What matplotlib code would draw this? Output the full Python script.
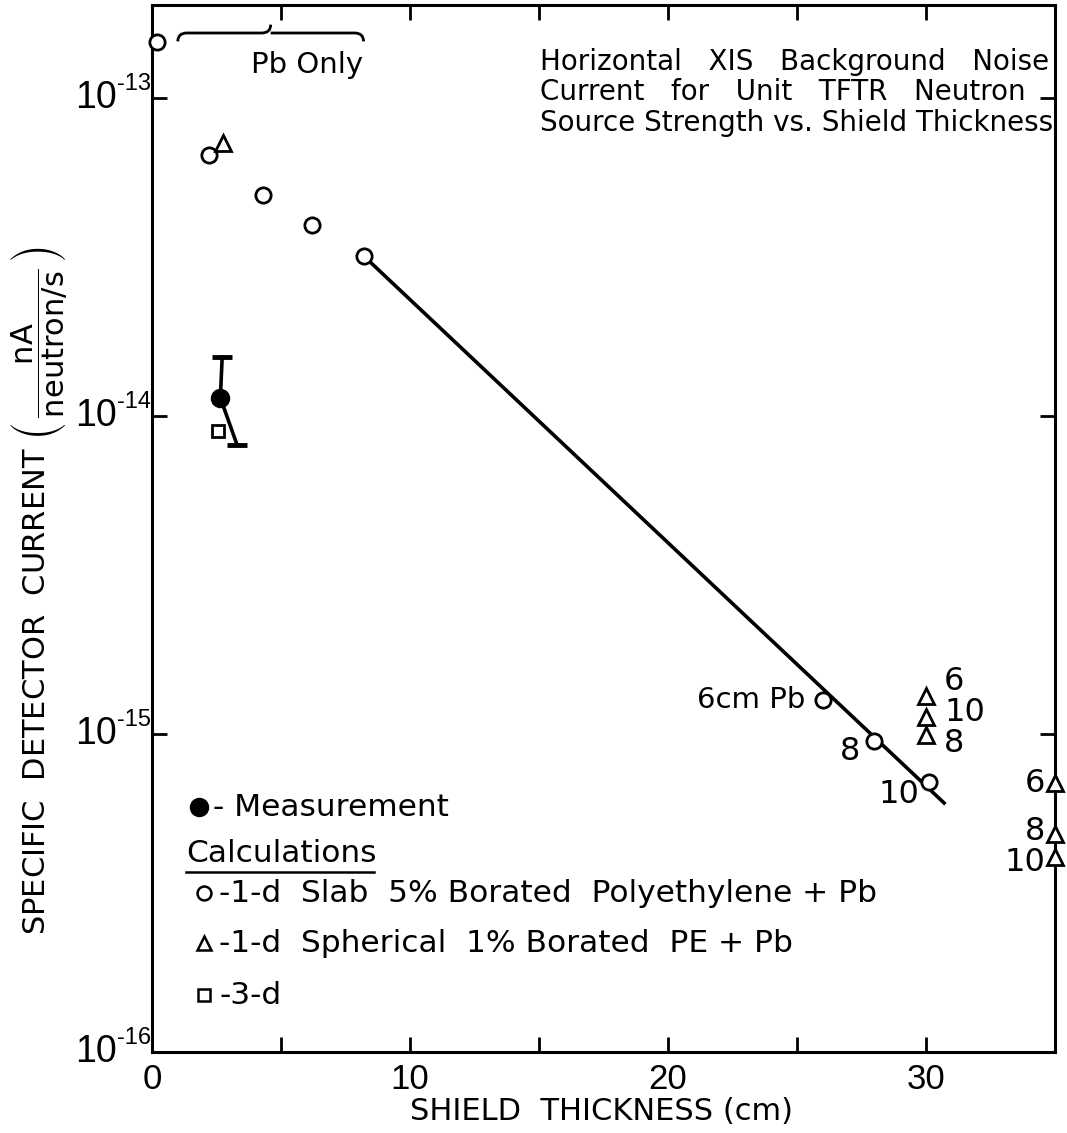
import numpy as np
import matplotlib
matplotlib.use("Agg")
import matplotlib.pyplot as plt
from matplotlib.path import Path
from matplotlib.patches import PathPatch
from matplotlib.transforms import blended_transform_factory

plt.rcParams['font.family'] = ['DejaVu Sans']
plt.rcParams['mathtext.default'] = 'regular'
NARROW = ['Liberation Sans Narrow', 'Liberation Sans', 'DejaVu Sans']

# ---- data ----
slab_x = [0.2, 2.2, 4.3, 6.2, 8.2, 26.0, 28.0, 30.1]
slab_y = [1.5e-13, 6.6e-14, 4.95e-14, 3.98e-14, 3.19e-14, 1.28e-15, 9.5e-16, 7.06e-16]
slab_lbl = ["", "", "", "", "", "6cm Pb", "8", "10"]

fit_x = [8.2, 30.7]
fit_y = [3.19e-14, 6.07e-16]

sph_x = [2.75, 30.0, 30.0, 30.0, 35.0, 35.0, 35.0]
sph_y = [7.2e-14, 1.32e-15, 1.13e-15, 9.9e-16, 7.0e-16, 4.85e-16, 4.1e-16]
sph_lbl = ["", "6", "10", "8", "6", "8", "10"]

meas_x = [2.65]
meas_y = [1.14e-14]
err_x = [2.72, 2.65, 3.3]
err_y = [1.53e-14, 1.14e-14, 8.1e-15]

sq_x = [2.55]
sq_y = [9.0e-15]

xticks_major = [0, 10, 20, 30]
xticks_minor = [5, 15, 25, 35]
yticks = [1e-16, 1e-15, 1e-14, 1e-13]
ytick_exp = ["-16", "-15", "-14", "-13"]

# ---- figure ----
W, H = 1067, 1133
fig = plt.figure(figsize=(W / 100, H / 100), dpi=100)
L, R, T, B = 152, 1055, 5, 1052
ax = fig.add_axes([L / W, 1 - B / H, (R - L) / W, (B - T) / H])
ax.set_yscale('log')
ax.set_xlim(0, 35)
ax.set_ylim(1e-16, 10 ** (-13 + 93 / 318.0))

for s in ax.spines.values():
    s.set_linewidth(2.2)

ax.set_xticks(xticks_major)
ax.set_xticks(xticks_minor, minor=True)
ax.set_xticklabels([str(v) for v in xticks_major], fontfamily=NARROW, fontsize=25)
ax.set_yticks(yticks)
ax.yaxis.set_minor_locator(matplotlib.ticker.NullLocator())
ax.set_yticklabels([])
ax.tick_params(axis='both', which='both', direction='in', length=11, width=2,
               top=True, right=True)
ax.tick_params(axis='x', which='both', pad=8)

# y tick labels: "10" with a small raised exponent
ytr = blended_transform_factory(ax.transAxes, ax.transData)
for v, e in zip(yticks, ytick_exp):
    ax.annotate("10", (0, v), xycoords=ytr, xytext=(-35, 0),
                textcoords='offset pixels', ha='right', va='center',
                fontsize=27, fontfamily=NARROW, annotation_clip=False)
    ax.annotate(e, (0, v), xycoords=ytr, xytext=(-35, 14),
                textcoords='offset pixels', ha='left', va='center',
                fontsize=17, fontfamily=NARROW, annotation_clip=False)

# fitted line
ax.plot(fit_x, fit_y, color='black', lw=2.6, zorder=2)

# slab circles
ax.plot(slab_x, slab_y, linestyle='none', marker='o', ms=11, mfc='white',
        mec='black', mew=2, zorder=3, clip_on=False)
# spherical triangles
ax.plot(sph_x, sph_y, linestyle='none', marker='^', ms=11, mfc='white',
        mec='black', mew=2, zorder=3, clip_on=False)
# 3-d square
ax.plot(sq_x, sq_y, linestyle='none', marker='s', ms=8, mfc='white',
        mec='black', mew=2, zorder=3)
# measurement with error bar
ax.plot(err_x, err_y, color='black', lw=2.6, zorder=2)
ax.plot([err_x[0], err_x[-1]], [err_y[0], err_y[-1]], linestyle='none',
        marker='_', ms=15, mew=3.5, color='black', zorder=3)
ax.plot(meas_x, meas_y, linestyle='none', marker='o', ms=13, color='black', zorder=4)

# point labels
slab_off = {"6cm Pb": (-17, 0, 'right'), "8": (-24, -10, 'center'), "10": (-30, -12, 'center')}
for x, y, t in zip(slab_x, slab_y, slab_lbl):
    if t:
        dx, dy, ha = slab_off[t]
        ax.annotate(t, (x, y), xytext=(dx, dy), textcoords='offset pixels',
                    ha=ha, va='center', fontsize=23 if t != "6cm Pb" else 21)
sph_off = [None, (18, 14, 'left'), (18, 5, 'left'), (18, -8, 'left'),
           (-10, 0, 'right'), (-10, 2, 'right'), (-10, -5, 'right')]
for (x, y, t, o) in zip(sph_x, sph_y, sph_lbl, sph_off):
    if t:
        dx, dy, ha = o
        ax.annotate(t, (x, y), xytext=(dx, dy), textcoords='offset pixels',
                    ha=ha, va='center', fontsize=23, annotation_clip=False)

# helpers for pixel -> axes fraction
def fx(px):
    return (px - L) / (R - L)

def fy(py):
    return (B - py) / (B - T)

# "Pb Only" brace (x in data, y in axes fraction)
bx0, bx1 = 1.0, 8.2
bxm = 4.6
yb = fy(33)
d = 0.008
verts = [(bx0, yb - d), (bx0, yb), (bx0 + 0.35, yb),
         (bxm - 0.35, yb), (bxm, yb), (bxm, yb + d),
         (bxm, yb), (bxm + 0.35, yb),
         (bx1 - 0.35, yb), (bx1, yb), (bx1, yb - d)]
codes = [Path.MOVETO, Path.CURVE3, Path.CURVE3,
         Path.LINETO, Path.CURVE3, Path.CURVE3,
         Path.MOVETO, Path.LINETO,
         Path.LINETO, Path.CURVE3, Path.CURVE3]
ax.add_patch(PathPatch(Path(verts, codes), transform=ax.get_xaxis_transform(),
                       fill=False, lw=2, color='black', clip_on=False))
ax.text(fx(307), fy(65), "Pb Only", transform=ax.transAxes, ha='center',
        va='center', fontsize=21)

# title block
title_lines = ["Horizontal   XIS   Background   Noise",
               "Current   for   Unit   TFTR   Neutron",
               "Source Strength vs. Shield Thickness"]
for t, py in zip(title_lines, [62, 92, 123]):
    ax.text(fx(540), fy(py), t, transform=ax.transAxes, ha='left', va='center',
            fontsize=20)

# legend block
LF = 22.5
ax.plot([fx(199)], [fy(807)], marker='o', ms=13, color='black',
        transform=ax.transAxes, clip_on=False)
ax.text(fx(213), fy(807), "- Measurement", transform=ax.transAxes, ha='left',
        va='center', fontsize=LF)
ax.text(fx(186), fy(853), "Calculations", transform=ax.transAxes, ha='left',
        va='center', fontsize=LF)
ax.plot([fx(186), fx(374)], [fy(872), fy(872)], color='black', lw=1.8,
        transform=ax.transAxes)
ax.plot([fx(204)], [fy(893)], marker='o', ms=10, mfc='white', mec='black', mew=1.8,
        transform=ax.transAxes)
ax.text(fx(219), fy(893), "-1-d  Slab  5% Borated  Polyethylene + Pb",
        transform=ax.transAxes, ha='left', va='center', fontsize=LF)
ax.plot([fx(204)], [fy(943)], marker='^', ms=10, mfc='white', mec='black', mew=1.8,
        transform=ax.transAxes)
ax.text(fx(219), fy(943), "-1-d  Spherical  1% Borated  PE + Pb",
        transform=ax.transAxes, ha='left', va='center', fontsize=LF)
ax.plot([fx(204)], [fy(995)], marker='s', ms=8, mfc='white', mec='black', mew=1.8,
        transform=ax.transAxes)
ax.text(fx(219), fy(995), "-3-d", transform=ax.transAxes, ha='left',
        va='center', fontsize=LF)

# axis labels
fig.text(602 / W, 1 - 1112 / H, "SHIELD  THICKNESS (cm)", ha='center', va='center',
         fontsize=22)
fig.text(40 / W, 1 - 590 / H,
         r"SPECIFIC  DETECTOR  CURRENT $\left(\,\dfrac{\mathrm{nA}}{\mathrm{neutron/s}}\,\right)$",
         rotation=90, ha='center', va='center', fontsize=22)

fig.savefig("out.png", dpi=100)
